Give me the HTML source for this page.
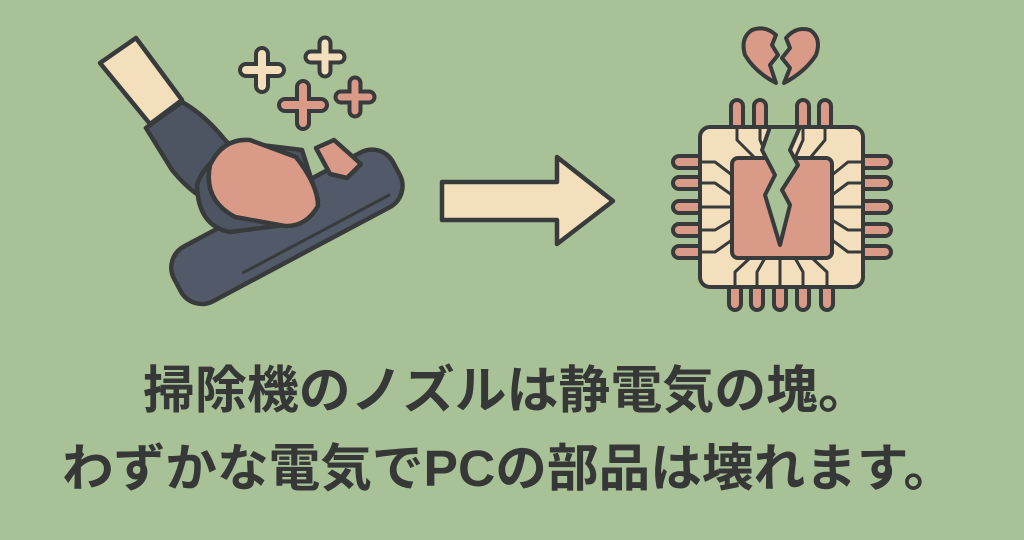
<!DOCTYPE html>
<html><head><meta charset="utf-8"><style>
html,body{margin:0;padding:0;background:#a9c197;}
svg{display:block}
</style></head><body>
<svg width="1024" height="540" viewBox="0 0 1024 540" xmlns="http://www.w3.org/2000/svg">
<rect width="1024" height="540" fill="#a9c197"/>
<g stroke="#383b3c" stroke-width="4.5" stroke-linejoin="round" stroke-linecap="round">
<polygon points="100,63 136,38 182,100 150,124" fill="#f3dfbb"/>
<path d="M146,128 L182,102 Q205,115 225,140 L245,160 L218,205 Q195,198 172,170 Z" fill="#4d5563"/>
<g transform="translate(286,225) rotate(-28)">
<rect x="-124" y="-29" width="248" height="62" rx="24" fill="#525a6a"/>
<line x1="-60" y1="22" x2="105" y2="22" stroke-width="3"/>
</g>
<path d="M197,185 Q205,158 245,143 L302,150 L318,200 L292,224 L230,232 Q198,226 197,185 Z" fill="#4d5563"/>
<path d="M210,165 Q223,138 250,140 L296,157 Q318,185 318,206 Q306,227 285,226 L235,217 Q203,200 210,165 Z" fill="#d99a88"/>
<path d="M316,148 L334,140 L361,164 L347,178 L330,174 Z" fill="#d99a88"/>
<path d="M262,54 V86 M246,70 H278" stroke-width="16"/>
<path d="M262,54 V86 M246,70 H278" stroke="#f3dfbb" stroke-width="8"/>
<path d="M325,43 V71 M311,57 H339" stroke-width="15"/>
<path d="M325,43 V71 M311,57 H339" stroke="#f3dfbb" stroke-width="7"/>
<path d="M303,87 V123 M285,105 H321" stroke-width="16"/>
<path d="M303,87 V123 M285,105 H321" stroke="#d99a88" stroke-width="8"/>
<path d="M355,83 V111 M341,97 H369" stroke-width="15"/>
<path d="M355,83 V111 M341,97 H369" stroke="#d99a88" stroke-width="7"/>
</g>
<polygon points="442,182 557,182 557,157 613,201 557,244 557,220 442,220" fill="#f3dfbb" stroke="#383b3c" stroke-width="4.5" stroke-linejoin="round"/>
<g stroke="#383b3c" stroke-width="4" stroke-linejoin="round" fill="#d99a88">
<g>
<rect x="673" y="156" width="34" height="12" rx="6"/><rect x="673" y="177" width="34" height="12" rx="6"/><rect x="673" y="201" width="34" height="12" rx="6"/><rect x="673" y="224" width="34" height="12" rx="6"/><rect x="673" y="246" width="34" height="12" rx="6"/>
<rect x="857" y="156" width="34" height="12" rx="6"/><rect x="857" y="177" width="34" height="12" rx="6"/><rect x="857" y="201" width="34" height="12" rx="6"/><rect x="857" y="224" width="34" height="12" rx="6"/><rect x="857" y="246" width="34" height="12" rx="6"/>
<rect x="731" y="100" width="12" height="34" rx="6"/><rect x="754" y="100" width="12" height="34" rx="6"/><rect x="797" y="100" width="12" height="34" rx="6"/><rect x="819" y="100" width="12" height="34" rx="6"/>
<rect x="729" y="280" width="12" height="30" rx="6"/><rect x="751" y="280" width="12" height="30" rx="6"/><rect x="774" y="280" width="12" height="30" rx="6"/><rect x="797" y="280" width="12" height="30" rx="6"/><rect x="821" y="280" width="12" height="30" rx="6"/>
</g>
<rect x="700" y="127" width="163" height="160" rx="10" fill="#f3dfbb"/>
<g fill="none" stroke-width="3">
<path d="M700,162 H715 L732,175 M700,183 H715 L732,195 M700,207 H732 M700,230 H715 L732,220 M700,252 H715 L732,240"/>
<path d="M863,162 H848 L832,175 M863,183 H848 L832,195 M863,207 H832 M863,230 H848 L832,220 M863,252 H848 L832,240"/>
<path d="M737,127 V140 L755,158 M760,127 V140 L768,158 M803,127 V140 L795,158 M825,127 V140 L810,158"/>
<path d="M735,287 V272 L750,258 M757,287 V272 L765,258 M780,287 V258 M803,287 V272 L795,258 M827,287 V272 L812,258"/>
</g>
<rect x="732" y="158" width="100" height="100" rx="6"/>
<path d="M770,127 L762,150 L775,175 L765,195 L780,245 L790,205 L782,190 L798,165 L790,150 L800,127 Z" fill="#a9c197"/>
<path d="M776,83 L770,65 L778,55 L772,45 L776,35 Q765,25 752,30 Q740,38 745,55 Q755,72 776,83 Z" fill="#d99a88"/>
<path d="M784,83 L790,68 L782,58 L790,48 L786,38 Q796,26 810,30 Q822,38 816,55 Q805,72 784,83 Z" fill="#d99a88"/>
</g>
<g font-family="'Liberation Sans','Noto Sans CJK JP',sans-serif" font-weight="bold" font-size="51" fill="#363838">
<text x="143" y="408" textLength="727" lengthAdjust="spacingAndGlyphs">掃除機のノズルは静電気の塊。</text>
<text x="62" y="486" textLength="893" lengthAdjust="spacingAndGlyphs">わずかな電気でPCの部品は壊れます。</text>
</g>
</svg>
</body></html>
